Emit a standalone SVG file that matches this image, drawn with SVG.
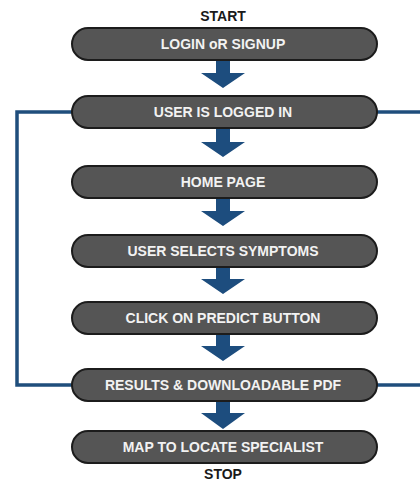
<svg xmlns="http://www.w3.org/2000/svg" width="420" height="482" viewBox="0 0 420 482">
<style>
.pill{fill:#555555;stroke:#1c1c1c;stroke-width:2}
.pt{fill:#f2f2f2;font-family:"Liberation Sans",Arial,sans-serif;font-weight:bold;font-size:14px;text-anchor:middle}
.lbl{fill:#1a1a1a;font-family:"Liberation Sans",Arial,sans-serif;font-weight:bold;font-size:14px;text-anchor:middle}
.arr{fill:#1d4d7e}
.ln{fill:none;stroke:#1f4e7c;stroke-width:3.5}
</style>
<rect width="420" height="482" fill="#ffffff"/>
<g id="connectors">
<path class="ln" d="M73,112 H17 V385 H73"/>
<path class="ln" d="M376,112 H420" stroke-width="2.5"/>
<path class="ln" d="M376,385 H420" stroke-width="2.5"/>
<polygon class="arr" points="216,61 230,61 230,73 245,73 223,88 201,73 216,73"/>
<polygon class="arr" points="216,129 230,129 230,142 245,142 223,157 201,142 216,142"/>
<polygon class="arr" points="216,199 230,199 230,211 245,211 223,226 201,211 216,211"/>
<polygon class="arr" points="216,268 230,268 230,279 245,279 223,294 201,279 216,279"/>
<polygon class="arr" points="216,335 230,335 230,346 245,346 223,361 201,346 216,346"/>
<polygon class="arr" points="216,402 230,402 230,413 245,413 223,429 201,413 216,413"/>
</g>
<g id="start"><text class="lbl" x="223" y="21">START</text></g>
<g id="n1"><rect class="pill" x="72" y="28" width="305" height="32" rx="16"/><text class="pt" x="223" y="49">LOGIN oR SIGNUP</text></g>
<g id="n2"><rect class="pill" x="72" y="96" width="305" height="32" rx="16"/><text class="pt" x="223" y="117">USER IS LOGGED IN</text></g>
<g id="n3"><rect class="pill" x="72" y="166" width="305" height="32" rx="16"/><text class="pt" x="223" y="187">HOME PAGE</text></g>
<g id="n4"><rect class="pill" x="72" y="235" width="305" height="32" rx="16"/><text class="pt" x="223" y="256">USER SELECTS SYMPTOMS</text></g>
<g id="n5"><rect class="pill" x="72" y="302" width="305" height="32" rx="16"/><text class="pt" x="223" y="323">CLICK ON PREDICT BUTTON</text></g>
<g id="n6"><rect class="pill" x="72" y="369" width="305" height="32" rx="16"/><text class="pt" x="223" y="390">RESULTS &amp; DOWNLOADABLE PDF</text></g>
<g id="n7"><rect class="pill" x="72" y="431" width="305" height="32" rx="16"/><text class="pt" x="223" y="452">MAP TO LOCATE SPECIALIST</text></g>
<g id="stop"><text class="lbl" x="223" y="479">STOP</text></g>
</svg>
